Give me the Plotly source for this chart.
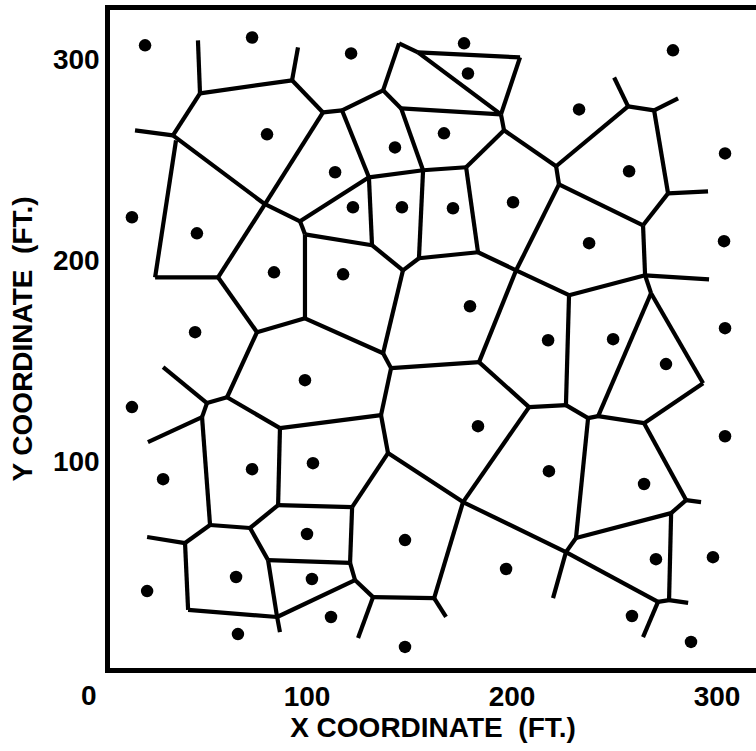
import plotly.graph_objects as go

# Sample sites (ft)
site_x = [21.0, 73.2, 121.5, 176.6, 178.5, 278.5, 80.5, 142.9, 166.8, 232.7,
          303.9, 113.7, 257.1, 14.6, 46.3, 122.4, 146.3, 171.2, 200.5, 237.6,
          303.4, 83.9, 117.6, 179.5, 45.4, 217.6, 249.3, 303.9, 275.1, 99.0,
          14.6, 183.4, 303.9, 29.8, 73.2, 102.9, 218.0, 264.4, 100.0, 147.8,
          197.1, 270.2, 298.0, 22.0, 65.4, 102.4, 111.7, 66.3, 147.8, 258.5,
          287.3]
site_y = [307.0, 310.9, 303.0, 308.0, 293.0, 304.5, 262.7, 256.2, 263.2, 275.1,
          253.2, 243.8, 244.3, 221.4, 213.4, 226.4, 226.4, 225.9, 228.9, 208.5,
          209.5, 194.0, 193.0, 177.1, 164.2, 160.2, 160.7, 166.2, 148.3, 140.3,
          126.9, 117.4, 112.4, 91.0, 96.0, 99.0, 95.0, 88.6, 63.7, 60.7,
          46.3, 51.2, 52.2, 35.3, 42.3, 41.3, 22.4, 13.9, 7.5, 22.9,
          10.0]

# Polygon vertices (ft), indexed by vertex_id
vertex_id = [1, 2, 3, 4, 5, 6, 7, 8, 9, 10, 11, 12, 13, 14, 15, 16, 17, 18, 20,
             21, 22, 23, 24, 25, 26, 27, 28, 29, 30, 31, 32, 33, 34, 35, 36, 37,
             38, 39, 40, 41, 42, 43, 44, 45, 46, 47, 48, 50, 51, 52, 53, 54, 55,
             56, 57, 58, 59, 60, 61, 62, 63, 64, 65, 66, 67, 68, 69, 70, 71, 72,
             73, 74, 75, 76, 77, 78, 79, 80, 81, 82, 83, 84, 85, 86, 87, 88, 89, 90]
vertex_x = [46.8, 47.8, 92.7, 95.6, 107.8, 117.1, 137.1, 144.9, 154.1, 203.9,
            194.6, 145.9, 196.1, 16.1, 34.6, 79.5, 96.6, 130.2, 131.7, 99.0,
            156.6, 177.6, 154.6, 183.4, 146.8, 137.1, 99.0, 75.6, 56.6, 25.9,
            36.1, 141.0, 183.9, 202.0, 227.8, 264.9, 221.5, 222.9, 256.6, 249.8,
            269.3, 281.0, 276.1, 295.6, 263.9, 296.1, 267.8, 61.0, 29.8, 51.2,
            48.8, 22.4, 86.8, 136.1, 52.7, 85.9, 72.2, 122.0, 139.5, 40.5,
            22.0, 42.0, 85.4, 81.0, 121.0, 123.4, 132.2, 124.9, 86.8, 162.0,
            167.8, 176.1, 208.3, 226.3, 237.1, 242.0, 264.4, 293.2, 284.9, 292.2,
            277.6, 231.2, 276.6, 285.9, 271.2, 263.9, 226.3, 220.0]
vertex_y = [309.5, 283.1, 289.6, 306.0, 273.6, 274.6, 284.6, 308.0, 303.5, 301.0,
            272.6, 275.6, 264.7, 264.7, 262.2, 227.9, 219.4, 241.3, 207.5, 212.9,
            244.8, 246.3, 201.0, 204.0, 195.0, 153.7, 171.1, 164.2, 191.5, 191.5,
            259.7, 146.3, 149.3, 195.0, 182.6, 192.5, 246.8, 237.8, 276.6, 291.0,
            274.6, 280.6, 233.3, 234.3, 217.4, 190.5, 183.6, 131.8, 146.8, 128.9,
            121.9, 109.5, 116.4, 122.9, 68.2, 78.1, 66.7, 77.1, 104.0, 59.2,
            62.2, 25.9, 22.4, 50.7, 49.3, 40.8, 32.3, 11.9, 14.9, 31.8,
            22.4, 79.6, 126.9, 127.9, 121.4, 122.4, 118.9, 138.8, 80.6, 79.6,
            74.1, 61.7, 30.8, 29.4, 29.9, 12.4, 54.7, 31.8]

# Polygon edges as vertex-id pairs
edge_a = [1, 2, 3, 3, 5, 6, 7, 7, 8, 9, 9, 10, 12, 11, 13, 13, 12, 6, 14, 2,
          15, 16, 16, 17, 17, 18, 18, 21, 21, 32, 31, 30, 30, 29, 28, 29, 22, 22,
          23, 24, 24, 26, 26, 27, 33, 34, 25, 35, 36, 36, 34, 38, 38, 40, 40, 42,
          42, 44, 44, 39, 39, 46, 37, 37, 48, 48, 51, 50, 52, 53, 53, 50, 55, 55,
          58, 58, 60, 60, 57, 57, 62, 62, 64, 59, 66, 66, 65, 65, 67, 68, 69, 69,
          33, 56, 61, 75, 75, 76, 77, 78, 79, 79, 81, 81, 83, 83, 85, 85, 87, 87,
          77, 84, 89, 89, 74, 72]
edge_b = [2, 3, 4, 5, 6, 7, 8, 12, 9, 10, 11, 11, 11, 13, 38, 23, 22, 18, 15, 15,
          16, 5, 17, 18, 21, 22, 20, 20, 28, 31, 30, 16, 29, 28, 27, 50, 23, 24,
          25, 25, 26, 20, 27, 33, 34, 35, 35, 36, 37, 76, 75, 39, 40, 41, 42, 43,
          44, 45, 46, 46, 35, 37, 47, 48, 78, 80, 52, 52, 53, 54, 57, 55, 56, 58,
          59, 60, 61, 67, 59, 62, 63, 64, 65, 66, 67, 65, 71, 68, 68, 69, 70, 72,
          56, 61, 74, 74, 76, 77, 78, 79, 80, 81, 82, 83, 84, 85, 86, 87, 88, 89,
          84, 89, 90, 74, 72, 73]

# Axis tick values and labels
x_ticks = [100, 200, 300]
y_ticks = [100, 200, 300]
x_range = [3.9, 319.0]
y_range = [-3.0, 324.6]

pos = {vid: (vx, vy) for vid, vx, vy in zip(vertex_id, vertex_x, vertex_y)}
ex, ey = [], []
for a, b in zip(edge_a, edge_b):
    ex += [pos[a][0], pos[b][0], None]
    ey += [pos[a][1], pos[b][1], None]

fig = go.Figure()
fig.add_trace(go.Scatter(x=ex, y=ey, mode="lines",
                         line=dict(color="black", width=4.2),
                         hoverinfo="skip", showlegend=False))
fig.add_trace(go.Scatter(x=site_x, y=site_y, mode="markers",
                         marker=dict(color="black", size=12.5),
                         showlegend=False))

font_main = dict(family="Liberation Sans, Arial, sans-serif", color="black")

# origin label "0" sits below the corner, at x = 0 on the x scale
zero_paper_x = (0 - x_range[0]) / (x_range[1] - x_range[0])

fig.update_layout(
    width=756, height=751,
    margin=dict(l=110, r=0, t=10, b=83),
    paper_bgcolor="white", plot_bgcolor="white",
    font=dict(family="Liberation Sans, Arial, sans-serif", color="black"),
    xaxis=dict(range=x_range, showgrid=False, zeroline=False,
               showline=True, linewidth=4.5, linecolor="black", mirror=True,
               ticks="", tickvals=x_ticks,
               ticktext=["<b>%d</b>" % v for v in x_ticks],
               tickfont=dict(size=28, **font_main),
               title=dict(text="<b>X COORDINATE\u00a0\u00a0(FT.)</b>",
                          font=dict(size=28, **font_main), standoff=2)),
    yaxis=dict(range=y_range, showgrid=False, zeroline=False,
               showline=True, linewidth=4.5, linecolor="black", mirror=False,
               ticks="", tickvals=y_ticks,
               ticktext=["<b>%d</b>" % v for v in y_ticks],
               tickfont=dict(size=28, **font_main),
               title=dict(text="<b>Y COORDINATE\u00a0\u00a0(FT.)</b>",
                          font=dict(size=28, **font_main), standoff=14)),
    annotations=[dict(text="<b>0</b>", x=zero_paper_x - 0.02, y=0,
                      xref="paper", yref="paper",
                      xanchor="center", yanchor="top", yshift=-10,
                      showarrow=False, font=dict(size=28, **font_main))],
)

fig.write_html("out.html")
